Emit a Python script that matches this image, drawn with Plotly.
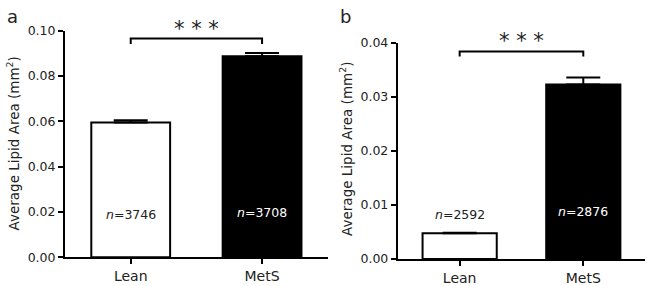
import plotly.graph_objects as go

categories = ["Lean", "MetS"]
a_values = [0.0595, 0.0887]
a_errors = [0.0010, 0.0015]
a_n = ["3746", "3708"]
b_values = [0.0048, 0.0323]
b_errors = [0.0001, 0.0013]
b_n = ["2592", "2876"]
a_ticks = [0.00, 0.02, 0.04, 0.06, 0.08, 0.10]
b_ticks = [0.00, 0.01, 0.02, 0.03, 0.04]

FONT = "DejaVu Sans"
TXT = "#222"
fills = ["white", "black"]

fig = go.Figure()
for vals, errs, xa, ya in [(a_values, a_errors, "x", "y"), (b_values, b_errors, "x2", "y2")]:
    fig.add_trace(go.Bar(
        x=categories, y=vals, xaxis=xa, yaxis=ya, width=0.6,
        marker=dict(color=fills, line=dict(color="black", width=2)),
        error_y=dict(type="data", symmetric=False, array=errs, arrayminus=[0, 0],
                     color="black", thickness=2, width=17),
        showlegend=False, hoverinfo="skip"))

axis_common = dict(showline=True, linecolor="black", linewidth=2, ticks="outside",
                   ticklen=5, tickwidth=2, tickcolor="black", showgrid=False,
                   zeroline=False)
xfont = dict(family=FONT, size=14, color=TXT)
yfont = dict(family=FONT, size=12.5, color=TXT)

fig.update_layout(
    width=649, height=286, margin=dict(l=0, r=0, t=0, b=0),
    plot_bgcolor="white", paper_bgcolor="white",
    xaxis=dict(domain=[0.1002, 0.505], range=[-0.5, 1.5], anchor="y", tickfont=xfont, **axis_common),
    yaxis=dict(domain=[0.0804, 0.916], range=[0, 0.1], tickvals=a_ticks,
               ticktext=[f"{t:.2f}" for t in a_ticks], anchor="x", tickfont=yfont, **axis_common),
    xaxis2=dict(domain=[0.613, 0.994], range=[-0.5, 1.5], anchor="y2", tickfont=xfont, **axis_common),
    yaxis2=dict(domain=[0.0734, 0.871], range=[0, 0.04], tickvals=b_ticks,
                ticktext=[f"{t:.2f}" for t in b_ticks], anchor="x2", tickfont=yfont, **axis_common),
)

# significance brackets
for xr, yr, top, drop in [("x", "y", 0.0966, 0.0025), ("x2", "y2", 0.0384, 0.0009)]:
    fig.add_shape(type="path", xref=xr, yref=yr,
                  path=f"M 0,{top-drop} L 0,{top} L 1,{top} L 1,{top-drop}",
                  line=dict(color="black", width=2))
# stars (paper coords so they are not hidden above the axis range)
for xp, yp in [(0.303, 1 - 22 / 286), (0.803, 1 - 35 / 286)]:
    fig.add_annotation(x=xp, y=yp, xref="paper", yref="paper", text="* * *",
                       showarrow=False, xanchor="center", yanchor="middle",
                       font=dict(family=FONT, size=21, color=TXT))

# n labels
n_pos_a = [0.0188, 0.0196]
n_pos_b = [0.0083, 0.0088]
for i in range(2):
    fig.add_annotation(x=categories[i], y=n_pos_a[i], xref="x", yref="y",
                       text=f"<i>n</i>={a_n[i]}", showarrow=False,
                       font=dict(family=FONT, size=12.5, color=["#222", "white"][i]))
    fig.add_annotation(x=categories[i], y=n_pos_b[i], xref="x2", yref="y2",
                       text=f"<i>n</i>={b_n[i]}", showarrow=False,
                       font=dict(family=FONT, size=12.5, color=["#222", "white"][i]))

# y titles
for xp, yp in [(13 / 649, 0.50), (346 / 649, 0.48)]:
    fig.add_annotation(x=xp, y=yp, xref="paper", yref="paper", textangle=-90,
                       xanchor="center", yanchor="middle",
                       text="Average Lipid Area (mm<sup>2</sup>)", showarrow=False,
                       font=dict(family=FONT, size=13.5, color=TXT))

# panel letters
for xp, letter in [(12 / 649, "a"), (345 / 649, "b")]:
    fig.add_annotation(x=xp, y=1 - 9 / 286, xref="paper", yref="paper", text=letter,
                       xanchor="center", yanchor="middle",
                       showarrow=False, font=dict(family=FONT, size=18, color=TXT))

fig.write_html("out.html", config={"displayModeBar": False},
               post_script="document.body.style.margin='0';")
